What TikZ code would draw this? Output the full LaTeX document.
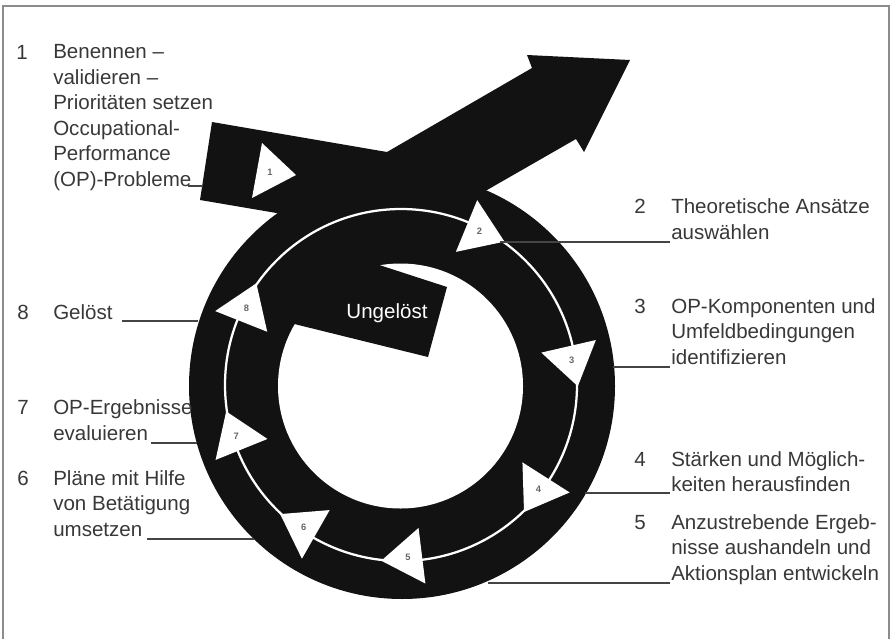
\documentclass[tikz,border=0pt]{standalone}
\usepackage{fontspec}
\setmainfont{Liberation Sans}
\definecolor{ink}{HTML}{121212}
\definecolor{txt}{HTML}{383838}
\definecolor{leadc}{HTML}{444444}
\newcommand\lblfont{\fontsize{15.4}{19.2}\selectfont}
\begin{document}
\begin{tikzpicture}[x=0.75pt,y=-0.75pt,
  lbl/.style={anchor=north west,inner sep=0pt,align=left,text=txt,font=\lblfont},
  numlbl/.style={anchor=base west,inner sep=0pt,text=txt,font=\lblfont},
  lead/.style={draw=leadc,line width=0.8pt},
  blk/.style={fill=ink,draw=none},
  tri/.style={fill=white,draw=none},
  tnum/.style={inner sep=0pt,text=black!60,font=\fontsize{7}{7}\selectfont\bfseries},
  frame/.style={draw=black!45,line width=1.2pt}]
\useasboundingbox (0,0) rectangle (892,639);
\draw[frame] (3,639) -- (3,6) -- (889,6) -- (889,639);

% ring and arrow
\fill[blk] (402,386) circle[radius=213];
\fill[blk] (212,122) -- (387,152) -- (532,68) -- (527,55) -- (630,60) -- (584,152) -- (576,139) -- (440,217) -- (300,217) -- (200,200) -- cycle;
\fill[white] (400.5,386) circle[radius=122.5];
\fill[blk] (330,249) -- (447,287) -- (428,357) -- (270,318) -- cycle;
\node[text=white,font=\lblfont,anchor=base,inner sep=0pt] (ung) at (387,318) {Ungelöst};
\draw[white,line width=1.7pt] (401,385) circle[radius=176];

% arrowheads on the cycle
\foreach \a/\n in {-67.6/2,-13/3,32.5/4,83/5,119.7/6,158/7,201.7/8}{
  \begin{scope}[shift={(401,385)},rotate=-\a]
    \fill[tri] (144,0) -- (200,0) -- (172,41) -- cycle;
    \node[tnum] (a\n) at (172,14) {\n};
  \end{scope}}
\fill[tri] (262,143) -- (296,175) -- (252,198) -- cycle;
\node[tnum] (a1) at (270,172) {1};

% labels
\node[numlbl] (n1) at (16,59) {1};
\node[lbl] (t1) at (53,44.2) {Benennen –\\validieren –\\Prioritäten setzen\\Occupational-\\Performance\\(OP)-Probleme};
\node[numlbl] (n2) at (634,213.5) {2};
\node[lbl] (t2) at (671,198.7) {Theoretische Ansätze\\auswählen};
\node[numlbl] (n3) at (634,313) {3};
\node[lbl] (t3) at (671,298.2) {OP-Komponenten und\\Umfeldbedingungen\\identifizieren};
\node[numlbl] (n4) at (634,466) {4};
\node[lbl] (t4) at (671,451.2) {Stärken und Möglich-\\keiten herausfinden};
\node[numlbl] (n5) at (634,529) {5};
\node[lbl] (t5) at (671,514.2) {Anzustrebende Ergeb-\\nisse aushandeln und\\Aktionsplan entwickeln};
\node[numlbl] (n8) at (17,319) {8};
\node[lbl] (t8) at (53,304.2) {Gelöst};
\node[numlbl] (n7) at (17,414.5) {7};
\node[lbl] (t7) at (53,399.7) {OP-Ergebnisse\\evaluieren};
\node[numlbl] (n6) at (17,485) {6};
\node[lbl] (t6) at (53,470.2) {Pläne mit Hilfe\\von Betätigung\\umsetzen};

% leader lines
\coordinate (p1a) at (188,186); \coordinate (p1b) at (203,186);
\coordinate (p2a) at (670,242); \coordinate (p2b) at (500,242);
\coordinate (p3a) at (670,367); \coordinate (p3b) at (613,367);
\coordinate (p4a) at (670,493); \coordinate (p4b) at (585,493);
\coordinate (p5a) at (670,583); \coordinate (p5b) at (488,583);
\coordinate (p8a) at (122,321); \coordinate (p8b) at (198,321);
\coordinate (p7a) at (151,443); \coordinate (p7b) at (197,443);
\coordinate (p6a) at (147,539); \coordinate (p6b) at (254,539);
\foreach \k in {1,2,3,4,5,6,7,8}{\draw[lead] (p\k a) -- (p\k b);}
\end{tikzpicture}
\end{document}
